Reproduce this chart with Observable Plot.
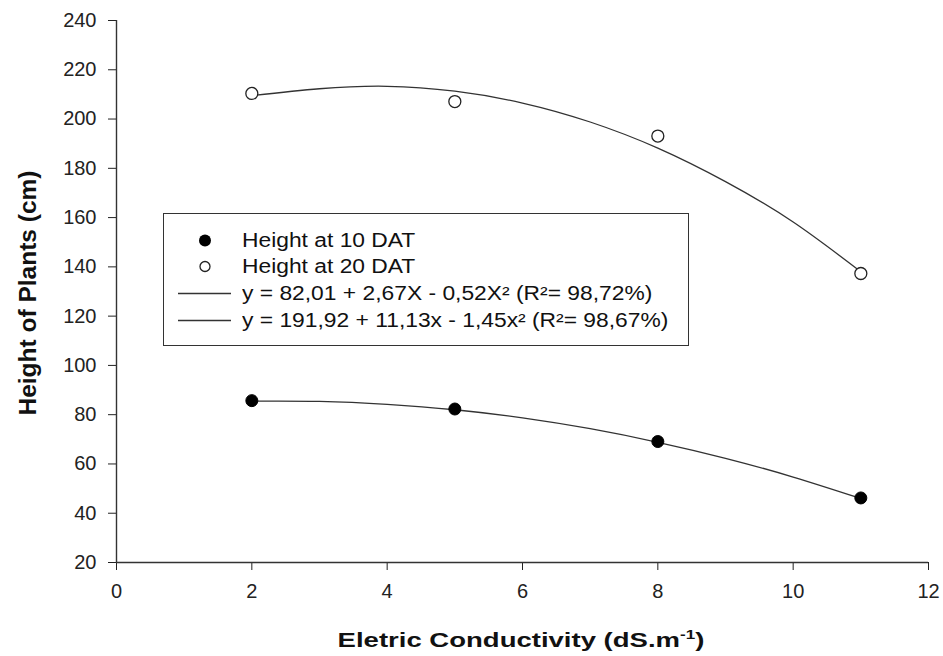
<!DOCTYPE html>
<html><head><meta charset="utf-8">
<script src="https://cdn.jsdelivr.net/npm/d3@7"></script>
<script src="https://cdn.jsdelivr.net/npm/@observablehq/plot@0.6"></script>
<style>
body{margin:0;background:#fff;}
#wrap{position:relative;width:943px;height:656px;font-family:"Liberation Sans",Arial,sans-serif;color:#111;}
#wrap svg{position:absolute;left:0;top:0;}
.ytitle{position:absolute;left:28px;top:293px;transform:translate(-50%,-50%) rotate(-90deg);font-weight:bold;font-size:24.5px;white-space:nowrap;}
.xtitle{position:absolute;left:0;width:1041px;top:627px;text-align:center;}
.xtitle span{display:inline-block;font-weight:bold;font-size:21px;white-space:nowrap;transform:scaleX(1.31);transform-origin:50% 50%;}
.xtitle sup{font-size:13px;}
.legend{position:absolute;left:163px;top:213px;width:524px;height:131px;border:1.5px solid #333;background:#fff;}
.row{position:absolute;left:0;height:27px;width:100%;}
.row svg{position:absolute;left:0;top:0;}
.row .t{position:absolute;left:78px;top:2px;font-size:19.5px;white-space:nowrap;transform:scaleX(1.17);transform-origin:0 50%;color:#111;}
</style></head><body><div id="wrap"></div>
<script>
// observed points
const conductivity = [2, 5, 8, 11];
const height10 = [85.7, 82.3, 69.1, 46.2];
const height20 = [210.4, 207.1, 193.1, 137.3];
// fitted curves
const fitX = [2, 3, 4, 5, 6, 7, 8, 9, 10, 11];
const fit10 = [85.5, 85.4, 84.2, 82.0, 78.7, 74.3, 68.8, 62.3, 54.7, 46.0];
const fit20 = [209.5, 212.3, 213.3, 211.3, 206.5, 198.8, 188.2, 174.6, 158.2, 138.0];
// axes
const xTicks = [0, 2, 4, 6, 8, 10, 12];
const yTicks = [20, 40, 60, 80, 100, 120, 140, 160, 180, 200, 220, 240];
const xDomain = [0, 12];
const yDomain = [20, 240];
const legendLabels = ["Height at 10 DAT", "Height at 20 DAT",
  "y = 82,01 + 2,67X - 0,52X² (R²= 98,72%)",
  "y = 191,92 + 11,13x - 1,45x² (R²= 98,67%)"];

const pts10 = conductivity.map((x, i) => ({x, y: height10[i]}));
const pts20 = conductivity.map((x, i) => ({x, y: height20[i]}));
const curve10 = fitX.map((x, i) => ({x, y: fit10[i]}));
const curve20 = fitX.map((x, i) => ({x, y: fit20[i]}));

const chart = Plot.plot({
  width: 943, height: 656,
  marginLeft: 116, marginRight: 15, marginTop: 20, marginBottom: 94,
  x: {domain: xDomain, ticks: xTicks, tickSize: 8, tickPadding: 13, label: null},
  y: {domain: yDomain, ticks: yTicks, tickSize: 8, tickPadding: 12, label: null},
  style: {fontFamily: '"Liberation Sans", Arial, sans-serif', fontSize: "20px", color: "#222", background: "transparent", overflow: "visible"},
  marks: [
    Plot.ruleX([xDomain[0]], {stroke: "#333", strokeWidth: 1.4}),
    Plot.ruleY([yDomain[0]], {stroke: "#333", strokeWidth: 1.4}),
    Plot.line(curve10, {x: "x", y: "y", stroke: "#333", strokeWidth: 1.3, curve: "natural"}),
    Plot.line(curve20, {x: "x", y: "y", stroke: "#333", strokeWidth: 1.3, curve: "natural"}),
    Plot.dot(pts10, {x: "x", y: "y", r: 6, fill: "#000", stroke: "#000", strokeWidth: 1}),
    Plot.dot(pts20, {x: "x", y: "y", r: 6, fill: "#fff", stroke: "#222", strokeWidth: 1.3})
  ]
});
const wrap = document.getElementById("wrap");
wrap.appendChild(chart);

// axis titles
const yt = document.createElement("div");
yt.className = "ytitle";
yt.textContent = "Height of Plants (cm)";
wrap.appendChild(yt);
const xt = document.createElement("div");
xt.className = "xtitle";
xt.innerHTML = "<span>Eletric Conductivity (dS.m<sup>-1</sup>)</span>";
wrap.appendChild(xt);

// legend
const lg = document.createElement("div");
lg.className = "legend";
const symbols = [
  '<circle cx="41" cy="13.5" r="6" fill="#000"/>',
  '<circle cx="41" cy="13.5" r="5" fill="#fff" stroke="#222" stroke-width="1.3"/>',
  '<line x1="14" x2="67" y1="13.5" y2="13.5" stroke="#333" stroke-width="1.3"/>',
  '<line x1="14" x2="67" y1="13.5" y2="13.5" stroke="#333" stroke-width="1.3"/>'
];
const rowTops = [13, 39, 66, 93];
legendLabels.forEach((lab, i) => {
  const r = document.createElement("div");
  r.className = "row";
  r.style.top = rowTops[i] + "px";
  r.innerHTML = '<svg width="80" height="27">' + symbols[i] + '</svg><span class="t"></span>';
  r.querySelector(".t").textContent = lab;
  lg.appendChild(r);
});
wrap.appendChild(lg);
</script>
</body></html>
